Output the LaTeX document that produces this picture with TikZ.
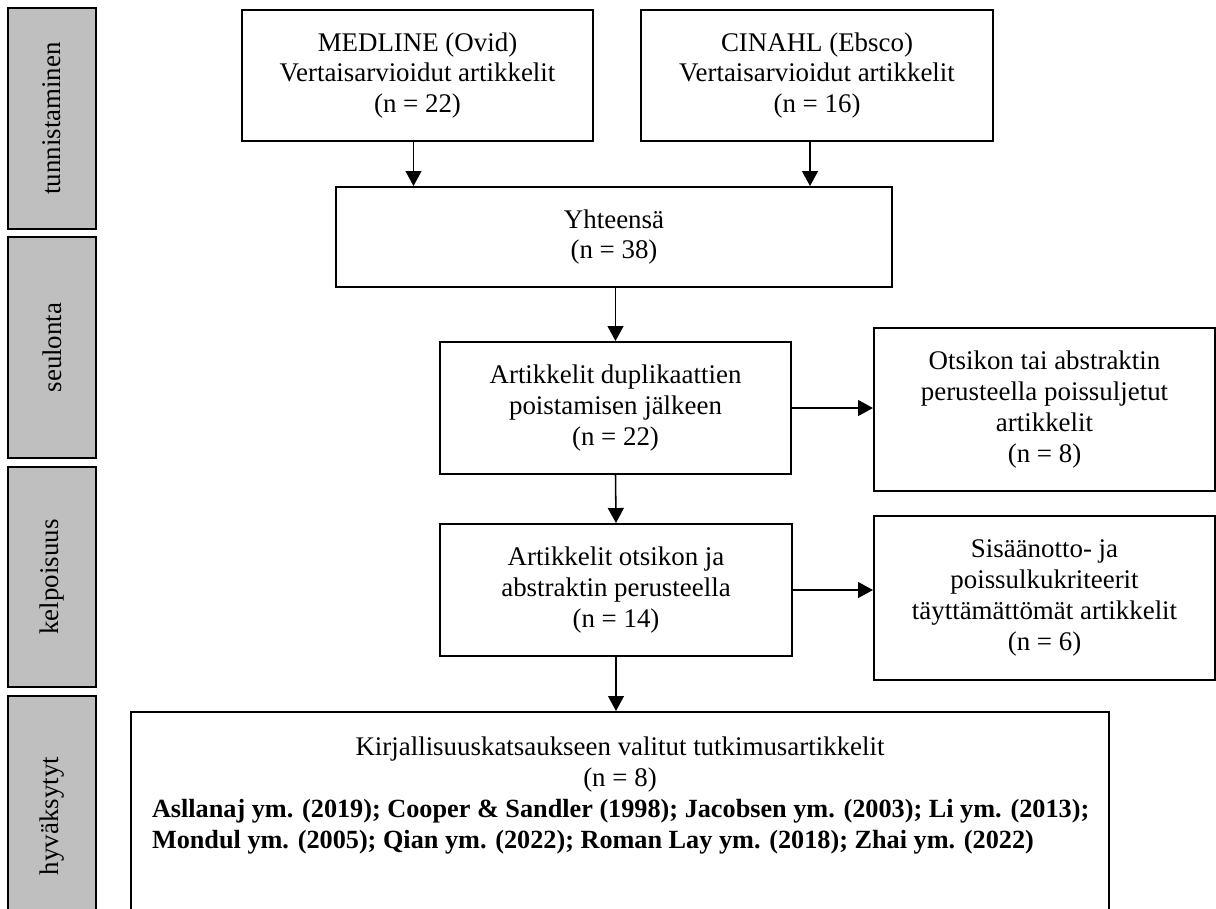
\documentclass[tikz,border=0pt]{standalone}
\usepackage{graphicx}
\usepackage{fontspec}
\setmainfont{Liberation Serif}
\usepackage{tikz}
\usetikzlibrary{arrows.meta,positioning}
\newlength{\unitpx}
\setlength{\unitpx}{0.4535pt}
\definecolor{phasegray}{RGB}{191,191,191}
\tikzset
{
    phase/.style    = {rectangle, draw=black, fill=phasegray, line width=0.9pt, minimum width=88*\unitpx, inner sep=0pt, font=\fontsize{12.2}{14}\selectfont},
    flowbox/.style  = {rectangle, draw=black, line width=0.9pt, align=center, inner sep=0pt, font=\fontsize{12.2}{14}\selectfont},
    flowline/.style = {line width=0.7pt}
}
\begin{document}
\begin{tikzpicture}[->,>={Triangle[length=6.8pt,width=7.2pt]}, x=\unitpx, y=-\unitpx]
    \useasboundingbox (0,0) rectangle (1216,908);
    % phases
    \node [phase, minimum height=221*\unitpx] (ident) at (52,118.5) {\rotatebox{90}{tunnistaminen}};
    \node [phase, minimum height=221*\unitpx] (screen) at (52,347.5) {\rotatebox{90}{seulonta}};
    \node [phase, minimum height=220*\unitpx] (elig) at (52,577) {\rotatebox{90}{kelpoisuus}};
    \node [phase, minimum height=240*\unitpx] (incl) at (52,816) {\rotatebox{90}{hyväksytyt}};
    % boxes
    \node [flowbox, minimum width=351*\unitpx, minimum height=131*\unitpx] (medline) at (417.5,75.5) {MEDLINE (Ovid)\\Vertaisarvioidut artikkelit\\(n = 22)};
    \node [flowbox, minimum width=352*\unitpx, minimum height=131*\unitpx] (cinahl) at (817,75.5) {CINAHL (Ebsco)\\Vertaisarvioidut artikkelit\\(n = 16)};
    \node [flowbox, minimum width=556*\unitpx, minimum height=100*\unitpx] (total) at (614,237) {Yhteensä\\(n = 38)};
    \node [flowbox, minimum width=351*\unitpx, minimum height=132*\unitpx] (dup) at (615.5,408) {Artikkelit duplikaattien\\poistamisen jälkeen\\(n = 22)};
    \node [flowbox, minimum width=341*\unitpx, minimum height=163*\unitpx] (ots) at (1044.5,409.5) {Otsikon tai abstraktin\\perusteella poissuljetut\\artikkelit\\(n = 8)};
    \node [flowbox, minimum width=352*\unitpx, minimum height=132*\unitpx] (title) at (616,590) {Artikkelit otsikon ja\\abstraktin perusteella\\(n = 14)};
    \node [flowbox, minimum width=341*\unitpx, minimum height=164*\unitpx] (crit) at (1044.5,598) {Sisäänotto- ja\\poissulkukriteerit\\täyttämättömät artikkelit\\(n = 6)};
    \node [flowbox, anchor=north, inner xsep=21*\unitpx, inner ysep=25*\unitpx] (final) at (620,711)
    {\parbox[t][220\unitpx][t]{936\unitpx}{\centering Kirjallisuuskatsaukseen valitut tutkimusartikkelit\\(n = 8)\par
    \raggedright\fontsize{11.9}{14}\selectfont\bfseries \mbox{Asllanaj ym. (2019); Cooper \& Sandler (1998); Jacobsen ym. (2003); Li ym. (2013);}\\\mbox{Mondul ym. (2005); Qian ym. (2022); Roman Lay ym. (2018); Zhai ym. (2022)}}};
    % connectors
    \draw [flowline] ([xshift=-4*\unitpx]medline.south) -- ([xshift=-4*\unitpx]medline.south |- total.north);
    \draw [flowline] ([xshift=-7*\unitpx]cinahl.south) -- ([xshift=-7*\unitpx]cinahl.south |- total.north);
    \draw [flowline] (total.south -| dup.north) -- (dup.north);
    \draw [flowline] (dup.east) -- (dup.east -| ots.west);
    \draw [flowline] (dup.south) -- (title.north);
    \draw [flowline] (title.east) -- (title.east -| crit.west);
    \draw [flowline] (title.south) -- (title.south |- final.north);
\end{tikzpicture}
\end{document}
